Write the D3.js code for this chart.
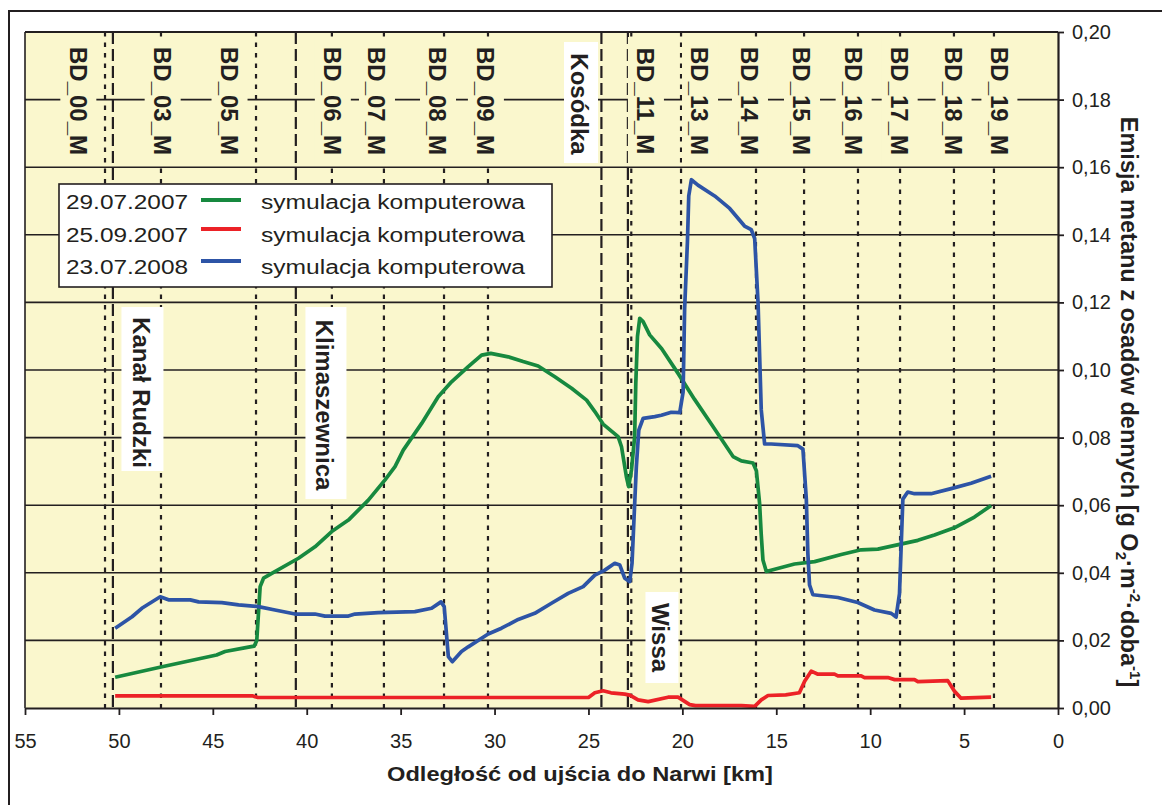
<!DOCTYPE html>
<html>
<head>
<meta charset="utf-8">
<script src="https://cdn.jsdelivr.net/npm/d3@7"></script>
<style>
  html, body { margin: 0; padding: 0; background: #ffffff; }
  svg { display: block; font-family: "Liberation Sans", Arial, Helvetica, sans-serif; }
</style>
</head>
<body>
<svg id="chart" width="1162" height="805"></svg>
<script>
// ---- Methane emission from bottom sediments, computer simulation [km, g O2 m-2 d-1] ----
const simJul2007 = [
  [50.2, 0.0091], [47.7, 0.0122], [44.8, 0.0157], [44.35, 0.0167], [43.1, 0.0180], [42.8, 0.0183],
  [42.66, 0.0200], [42.48, 0.0359], [42.3, 0.0384], [41.86, 0.0398], [40.44, 0.0443], [39.56, 0.0477],
  [38.67, 0.0522], [37.78, 0.0556], [36.72, 0.0615], [35.83, 0.0675], [35.3, 0.0714], [34.86, 0.0763],
  [33.88, 0.0842], [33.0, 0.0921], [32.29, 0.0965], [31.4, 0.1010], [30.69, 0.1044], [30.2, 0.1049],
  [29.27, 0.1039], [28.48, 0.1025], [27.68, 0.1012], [26.79, 0.0980], [25.9, 0.0946], [25.1, 0.0911],
  [24.66, 0.0877], [24.22, 0.0840], [23.42, 0.0803], [23.24, 0.0773], [22.98, 0.0684], [22.86, 0.0655],
  [22.71, 0.0704], [22.54, 0.0803], [22.48, 0.0960], [22.39, 0.1099], [22.27, 0.1153], [22.09, 0.1143],
  [21.74, 0.1104], [21.1, 0.1063], [20.23, 0.0990], [19.35, 0.0913], [18.46, 0.0840], [17.3, 0.0744],
  [16.86, 0.0731], [16.24, 0.0725], [16.06, 0.0702], [15.89, 0.0607], [15.8, 0.0512], [15.71, 0.0438],
  [15.53, 0.0404], [14.03, 0.0426], [12.96, 0.0433], [11.54, 0.0454], [10.48, 0.0468], [9.59, 0.0470],
  [7.46, 0.0496], [6.58, 0.0512], [5.52, 0.0533], [4.45, 0.0565], [3.56, 0.0599]
];
const simSep2007 = [
  [50.2, 0.0036], [42.9, 0.0036], [42.6, 0.0031], [25.0, 0.0031], [24.66, 0.0045], [24.22, 0.0051],
  [23.8, 0.0045], [23.07, 0.0041], [22.8, 0.0038], [22.36, 0.0024], [21.82, 0.0019], [20.76, 0.0032],
  [20.23, 0.0032], [19.61, 0.0010], [19.3, 0.0007], [16.86, 0.0007], [16.15, 0.0005], [15.8, 0.0024],
  [15.44, 0.0037], [14.5, 0.0039], [13.77, 0.0045], [13.49, 0.0079], [13.14, 0.0109], [12.78, 0.0100],
  [11.9, 0.0100], [11.72, 0.0095], [10.48, 0.0095], [10.3, 0.0090], [9.06, 0.0090], [8.7, 0.0084],
  [7.64, 0.0084], [7.46, 0.0078], [5.87, 0.0081], [5.52, 0.0050], [5.16, 0.0029], [3.56, 0.0032]
];
const simJul2008 = [
  [50.2, 0.0236], [49.3, 0.0270], [48.78, 0.0295], [47.8, 0.0329], [47.36, 0.0320], [46.2, 0.0320],
  [45.76, 0.0314], [44.52, 0.0312], [43.63, 0.0305], [42.57, 0.0300], [41.69, 0.0290], [40.62, 0.0278],
  [39.56, 0.0278], [39.03, 0.0272], [37.78, 0.0272], [37.43, 0.0278], [36.19, 0.0282], [34.24, 0.0285],
  [33.35, 0.0295], [32.85, 0.0314], [32.68, 0.0300], [32.46, 0.0152], [32.25, 0.0137], [31.76, 0.0167],
  [31.4, 0.0181], [30.34, 0.0219], [29.63, 0.0236], [28.74, 0.0262], [27.86, 0.0280], [26.97, 0.0310],
  [26.08, 0.0339], [25.28, 0.0359], [24.66, 0.0393], [24.13, 0.0408], [23.6, 0.0428], [23.33, 0.0423],
  [23.07, 0.0384], [22.8, 0.0374], [22.68, 0.0428], [22.57, 0.0566], [22.45, 0.0714], [22.32, 0.0822],
  [22.09, 0.0857], [21.47, 0.0862], [21.12, 0.0866], [20.59, 0.0875], [20.14, 0.0874], [19.96, 0.0935],
  [19.88, 0.1180], [19.73, 0.1380], [19.66, 0.1515], [19.52, 0.1563], [19.17, 0.1547], [18.28, 0.1515],
  [17.48, 0.1478], [16.69, 0.1426], [16.33, 0.1415], [16.15, 0.1389], [15.97, 0.1199], [15.8, 0.0882],
  [15.62, 0.0781], [15.27, 0.0781], [13.85, 0.0776], [13.58, 0.0766], [13.4, 0.0618], [13.32, 0.0459],
  [13.23, 0.0364], [13.05, 0.0335], [11.72, 0.0327], [10.66, 0.0312], [9.77, 0.0290], [8.88, 0.0280],
  [8.62, 0.0269], [8.44, 0.0338], [8.26, 0.0618], [8.0, 0.0639], [7.64, 0.0634], [6.76, 0.0634],
  [5.69, 0.0649], [4.63, 0.0665], [3.56, 0.0686]
];

const seriesDates = ["29.07.2007", "25.09.2007", "23.07.2008"];
const seriesLabel = "symulacja komputerowa";

// measurement stations: line position and label position along the river [km]
const stationNames = ["BD_00_M", "BD_03_M", "BD_05_M", "BD_06_M", "BD_07_M", "BD_08_M", "BD_09_M",
  "BD_11_M", "BD_13_M", "BD_14_M", "BD_15_M", "BD_16_M", "BD_17_M", "BD_18_M", "BD_19_M"];
const stationKm = [50.74, 47.76, 42.70, 38.66, 35.89, 32.69, 30.35, 22.72, 20.07, 16.08, 13.52, 10.65, 8.41, 5.54, 3.41];
const stationLabelKm = [52.16, 47.67, 44.11, 38.61, 36.26, 33.01, 30.46, 21.94, 19.06, 16.40, 13.63, 10.88, 8.43, 5.56, 3.12];

// tributaries
const tributaryNames = ["Kanał Rudzki", "Klimaszewnica", "Kosódka", "Wissa"];
const tributaryKm = [50.32, 40.58, 24.31, 22.90];
const tributaryLabelKm = [48.80, 39.03, 25.45, 21.14];

const xTicks = [55, 50, 45, 40, 35, 30, 25, 20, 15, 10, 5, 0];
const yTicks = [0, 0.02, 0.04, 0.06, 0.08, 0.10, 0.12, 0.14, 0.16, 0.18, 0.20];

// ---- drawing ----
const svg = d3.select("#chart");
const ink = "#231f20";
const plotFill = "#faf7cd";
const colors = ["#17893f", "#ec2227", "#2d54a6"];

const x = d3.scaleLinear().domain([55, 0]).range([25, 1058]);
const y = d3.scaleLinear().domain([0, 0.2]).range([708, 32]);
const [x0, x1] = x.range();
const [yb, yt] = y.range();

// outer frame
svg.append("rect").attr("x", 9).attr("y", 11).attr("width", 1200).attr("height", 900)
  .attr("fill", "none").attr("stroke", ink).attr("stroke-width", 2);

// plot area
svg.append("rect").attr("x", x0).attr("y", yt).attr("width", x1 - x0).attr("height", yb - yt)
  .attr("fill", plotFill);

// horizontal grid
svg.append("g").selectAll("line").data(yTicks.filter(v => v > 0 && v < 0.2)).join("line")
  .attr("x1", x0).attr("x2", x1).attr("y1", d => y(d)).attr("y2", d => y(d))
  .attr("stroke", ink).attr("stroke-width", 1.6);

// station lines (dotted) and tributary mouths (dashed)
svg.append("g").selectAll("line").data(stationKm).join("line")
  .attr("x1", d => x(d)).attr("x2", d => x(d)).attr("y1", yt).attr("y2", yb)
  .attr("stroke", ink).attr("stroke-width", 2.2).attr("stroke-dasharray", "4.5,6");
svg.append("g").selectAll("line").data(tributaryKm).join("line")
  .attr("x1", d => x(d)).attr("x2", d => x(d)).attr("y1", yt).attr("y2", yb)
  .attr("stroke", ink).attr("stroke-width", 2.2).attr("stroke-dasharray", "12,5");

// station labels in the top band
const capBD = 24 * 0.716;
const stG = svg.append("g");
stG.selectAll("rect").data(stationLabelKm).join("rect")
  .attr("x", d => x(d) - 18).attr("width", 36).attr("y", 37).attr("height", 129)
  .attr("fill", plotFill);
stG.selectAll("text").data(stationNames).join("text")
  .attr("transform", (d, i) => `translate(${x(stationLabelKm[i]) - capBD / 2},101) rotate(90)`)
  .attr("text-anchor", "middle").attr("font-size", 24).attr("font-weight", "bold")
  .attr("fill", ink).text(d => d);

// tributary labels in white boxes
const tribBoxes = [
  { y0: 307, y1: 471, w: 42, cy: 392.5 },
  { y0: 307, y1: 499, w: 41, cy: 405 },
  { y0: 42, y1: 163, w: 34, cy: 104 },
  { y0: 592, y1: 683, w: 33, cy: 637.5 }
];
const trG = svg.append("g");
tributaryNames.forEach((name, i) => {
  const cx = x(tributaryLabelKm[i]);
  const b = tribBoxes[i];
  trG.append("rect").attr("x", cx - b.w / 2 + 1).attr("width", b.w)
    .attr("y", b.y0).attr("height", b.y1 - b.y0).attr("fill", "#ffffff");
  trG.append("text")
    .attr("transform", `translate(${cx - capBD / 2},${b.cy}) rotate(90)`)
    .attr("text-anchor", "middle").attr("font-size", 24).attr("font-weight", "bold")
    .attr("fill", ink).text(name);
});

// data lines
const line = d3.line().x(d => x(d[0])).y(d => y(d[1]));
[simJul2007, simSep2007, simJul2008].forEach((s, i) => {
  svg.append("path").datum(s).attr("d", line)
    .attr("fill", "none").attr("stroke", colors[i]).attr("stroke-width", 3.7)
    .attr("stroke-linejoin", "round").attr("stroke-linecap", "butt");
});

// borders of the plot
svg.append("line").attr("x1", x0).attr("x2", x1).attr("y1", yt).attr("y2", yt)
  .attr("stroke", ink).attr("stroke-width", 2);
svg.append("line").attr("x1", x0).attr("x2", x0).attr("y1", yt).attr("y2", yb)
  .attr("stroke", ink).attr("stroke-width", 1.6);

// axes
const fmt = v => d3.format(".2f")(v).replace(".", ",");
const yAxis = svg.append("g").attr("transform", `translate(${x1},0)`)
  .call(d3.axisRight(y).tickValues(yTicks).tickFormat(fmt).tickSize(6).tickSizeOuter(0).tickPadding(8));
const xAxis = svg.append("g").attr("transform", `translate(0,${yb})`)
  .call(d3.axisBottom(x).tickValues(xTicks).tickFormat(d3.format("d")).tickSize(7).tickSizeOuter(0).tickPadding(19));
[yAxis, xAxis].forEach(g => {
  g.select(".domain").attr("stroke", ink).attr("stroke-width", 2.2);
  g.selectAll(".tick line").attr("stroke", ink).attr("stroke-width", 1.8);
  g.selectAll(".tick text").attr("font-size", 20).attr("fill", ink)
    .attr("font-family", "'Liberation Sans', Arial, sans-serif");
});

// axis titles
svg.append("text").attr("x", 580).attr("y", 781).attr("text-anchor", "middle")
  .attr("font-size", 20).attr("font-weight", "bold").attr("fill", ink)
  .attr("textLength", 386).attr("lengthAdjust", "spacingAndGlyphs")
  .text("Odległość od ujścia do Narwi [km]");

const yTitle = svg.append("text")
  .attr("transform", "translate(1121,402) rotate(90)")
  .attr("text-anchor", "middle").attr("font-size", 23.5).attr("font-weight", "bold").attr("fill", ink);
yTitle.append("tspan").text("Emisja metanu z osadów dennych [g O");
yTitle.append("tspan").attr("font-size", 15).attr("dy", 5).text("2");
yTitle.append("tspan").attr("dy", -5).text("·m");
yTitle.append("tspan").attr("font-size", 15).attr("dy", -9).text("-2");
yTitle.append("tspan").attr("dy", 9).text("·doba");
yTitle.append("tspan").attr("font-size", 15).attr("dy", -9).text("-1");
yTitle.append("tspan").attr("dy", 9).text("]");

// legend
const lg = svg.append("g");
lg.append("rect").attr("x", 59).attr("y", 184).attr("width", 493).attr("height", 103)
  .attr("fill", "#ffffff").attr("stroke", ink).attr("stroke-width", 1.6);
const rowBase = [209, 242, 274];
const rowSym = [200, 229, 261];
seriesDates.forEach((d, i) => {
  lg.append("text").attr("x", 66).attr("y", rowBase[i]).attr("font-size", 20).attr("fill", ink)
    .attr("textLength", 122).attr("lengthAdjust", "spacingAndGlyphs").text(d);
  lg.append("line").attr("x1", 201).attr("x2", 241).attr("y1", rowSym[i]).attr("y2", rowSym[i])
    .attr("stroke", colors[i]).attr("stroke-width", 4);
  lg.append("text").attr("x", 261).attr("y", rowBase[i]).attr("font-size", 20).attr("fill", ink)
    .attr("textLength", 264).attr("lengthAdjust", "spacingAndGlyphs").text(seriesLabel);
});
</script>
</body>
</html>
